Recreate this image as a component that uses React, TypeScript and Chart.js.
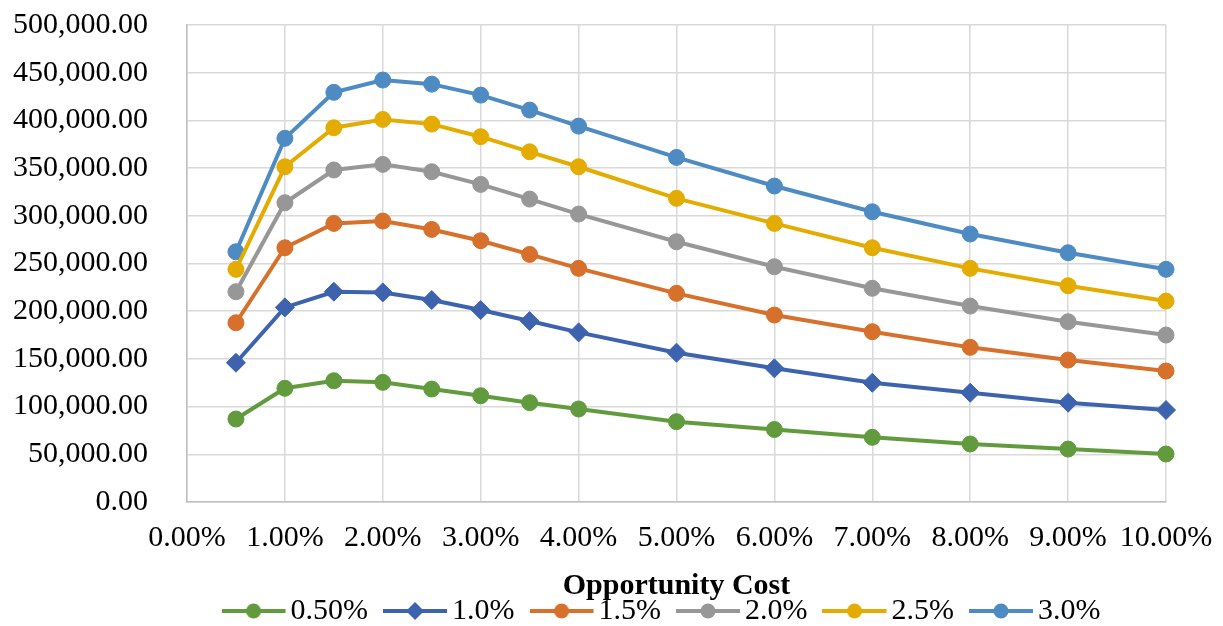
import React, { useEffect, useRef } from "react";
import { Chart, registerables } from "chart.js";

Chart.register(...registerables);

const opportunityCost = [0.5, 1, 1.5, 2, 2.5, 3, 3.5, 4, 5, 6, 7, 8, 9, 10];

const seriesLabels = ["0.50%", "1.0%", "1.5%", "2.0%", "2.5%", "3.0%"];

const s050 = [87000, 119200, 127100, 125400, 118400, 111400, 104100, 97500, 84200, 76000, 67800, 60800, 55500, 50300];
const s100 = [146000, 204000, 220400, 219700, 211700, 201200, 189700, 177800, 156500, 140100, 125000, 114500, 104100, 96400];
const s150 = [187900, 266500, 292000, 294500, 285700, 273900, 259500, 244900, 218700, 196000, 178500, 162100, 148800, 137300];
const s200 = [220400, 313700, 348000, 353900, 346200, 332900, 317500, 301800, 272800, 246600, 224000, 205400, 189000, 175000];
const s250 = [243900, 351400, 392300, 401000, 396100, 382900, 367100, 351400, 318300, 292000, 266500, 244900, 226700, 210600];
const s300 = [262300, 381200, 429400, 442300, 438000, 426500, 410800, 394000, 361200, 331200, 304200, 280900, 261300, 243900];

const seriesValues = [s050, s100, s150, s200, s250, s300];
const seriesColors = ["#629B3E", "#3D63AE", "#D6702B", "#979797", "#E4AC00", "#4E8BC2"];
const seriesMarkers = ["circle", "rectRot", "circle", "circle", "circle", "circle"];

const xTickMax = 10;
const yTickMax = 500000;
const yStep = 50000;

const FONT = "'Liberation Serif', 'Times New Roman', serif";

// legend icon: line + marker, drawn shifted left inside a wider transparent canvas
function makeLegendIcon(color: string, marker: string): HTMLCanvasElement {
  const c = document.createElement("canvas");
  c.width = 85;
  c.height = 20;
  const ctx = c.getContext("2d")!;
  ctx.strokeStyle = color;
  ctx.lineWidth = 4;
  ctx.beginPath();
  ctx.moveTo(0, 10);
  ctx.lineTo(64, 10);
  ctx.stroke();
  ctx.fillStyle = color;
  ctx.beginPath();
  if (marker === "rectRot") {
    ctx.moveTo(32, 1);
    ctx.lineTo(41, 10);
    ctx.lineTo(32, 19);
    ctx.lineTo(23, 10);
    ctx.closePath();
  } else {
    ctx.arc(32, 10, 7.5, 0, Math.PI * 2);
  }
  ctx.fill();
  return c;
}

export default function App() {
  const canvasRef = useRef<HTMLCanvasElement | null>(null);

  useEffect(() => {
    document.body.style.margin = "0";
    const canvas = canvasRef.current;
    if (!canvas) return;
    const icons = seriesColors.map((c, i) => makeLegendIcon(c, seriesMarkers[i]));

    const datasets = seriesLabels.map((label, i) => ({
      label,
      data: opportunityCost.map((x, j) => ({ x, y: seriesValues[i][j] })),
      borderColor: seriesColors[i],
      backgroundColor: seriesColors[i],
      pointBackgroundColor: seriesColors[i],
      pointBorderColor: seriesColors[i],
      pointStyle: seriesMarkers[i] as any,
      pointRadius: seriesMarkers[i] === "rectRot" ? 9.5 : 8,
      pointBorderWidth: 1,
      borderWidth: 4,
      tension: 0,
      fill: false,
      clip: false as any,
    }));

    const chart = new Chart(canvas, {
      type: "line",
      data: { datasets },
      options: {
        animation: false,
        responsive: true,
        maintainAspectRatio: false,
        layout: { padding: { left: 0, right: 57, top: 25, bottom: 0 } },
        plugins: {
          tooltip: { enabled: false },
          legend: {
            position: "bottom",
            fullSize: false,
            maxHeight: 76,
            labels: {
              usePointStyle: true,
              pointStyleWidth: 23,
              padding: 46,
              color: "#000",
              font: { family: FONT, size: 30 },
              generateLabels: (ch: any) => {
                const base = Chart.defaults.plugins.legend.labels.generateLabels(ch);
                return base.map((l: any, i: number) => ({ ...l, pointStyle: icons[i] }));
              },
            },
          },
        },
        scales: {
          x: {
            type: "linear",
            min: 0,
            max: xTickMax,
            border: { color: "#BFBFBF", width: 1.5 },
            grid: { color: "#D9D9D9", lineWidth: 1.5, drawTicks: false },
            afterFit: (scale: any) => {
              scale.height = 48;
              scale.paddingLeft = 0;
              scale.paddingRight = 0;
            },
            ticks: {
              stepSize: 1,
              padding: 18,
              color: "#000",
              font: { family: FONT, size: 30 },
              maxRotation: 0,
              autoSkip: false,
              callback: (v: any) => Number(v).toFixed(2) + "%",
            },
            title: {
              display: true,
              text: "Opportunity Cost",
              color: "#000",
              font: { family: FONT, size: 30, weight: "bold" },
              padding: { top: 0, bottom: -54 },
            },
          },
          y: {
            type: "linear",
            min: 0,
            max: yTickMax,
            border: { color: "#BFBFBF", width: 1.5 },
            grid: { color: "#D9D9D9", lineWidth: 1.5, drawTicks: false },
            afterFit: (scale: any) => {
              scale.width = 187;
              scale.paddingTop = 0;
              scale.paddingBottom = 0;
            },
            ticks: {
              stepSize: yStep,
              padding: 39,
              color: "#000",
              font: { family: FONT, size: 30 },
              callback: (v: any) =>
                Number(v).toLocaleString("en-US", { minimumFractionDigits: 2, maximumFractionDigits: 2 }),
            },
          },
        },
      },
    });
    return () => chart.destroy();
  }, []);

  return (
    <div style={{ width: 1223, height: 626, position: "relative" }}>
      <canvas ref={canvasRef} />
    </div>
  );
}
